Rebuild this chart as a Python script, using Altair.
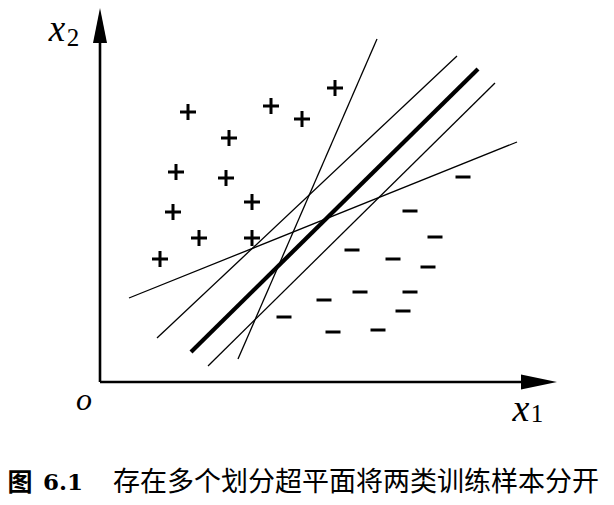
import altair as alt
import pandas as pd

# ---- data (figure units: origin at the axes' crossing) ----
plus_x = [88, 171, 202, 235, 129, 76, 126, 152, 73, 99, 152, 60]
plus_y = [270, 276, 263, 294, 244, 210, 204, 180, 170, 144, 144, 123]

minus_x = [363, 310, 335, 252, 293, 328, 260, 310, 224, 184, 303, 233, 278]
minus_y = [205, 171, 145, 132, 123, 115, 90, 90, 82, 65, 71, 50, 52]

# separating hyperplanes: start / end points, and whether bold (optimal)
line_x0 = [138, 57, 91, 108, 29]
line_y0 = [23, 44, 30, 16, 84]
line_x1 = [277, 357, 378, 395, 417]
line_y1 = [343, 326, 313, 299, 240]
line_bold = [False, False, True, False, False]

caption_fig = "图"
caption_num = "6.1"
caption_text = "存在多个划分超平面将两类训练样本分开"

X_DOM = [-92, 506]
Y_DOM = [-115, 374]

xs = alt.Scale(domain=X_DOM, nice=False, zero=False)
ys = alt.Scale(domain=Y_DOM, nice=False, zero=False)

def X(field, **kw):
    return alt.X(field, type="quantitative", scale=xs, axis=None, **kw)

def Y(field, **kw):
    return alt.Y(field, type="quantitative", scale=ys, axis=None, **kw)

plus_df = pd.DataFrame({"x": plus_x, "y": plus_y})
minus_df = pd.DataFrame({"x": minus_x, "y": minus_y})
lines_df = pd.DataFrame({"x": line_x0, "y": line_y0, "x2": line_x1, "y2": line_y1,
                         "w": [4.2 if b else 1.3 for b in line_bold]})

axes_df = pd.DataFrame({"x": [0, 0], "y": [0, 0], "x2": [428, 0], "y2": [0, 345]})
xarrow_df = pd.DataFrame({"x": [439], "y": [0]})
yarrow_df = pd.DataFrame({"x": [0], "y": [356.5]})

plus = alt.Chart(plus_df).mark_point(
    shape="M-1,0H1M0,-1V1", size=256, filled=False, stroke="black",
    strokeWidth=3, opacity=1, strokeCap="butt"
).encode(x=X("x"), y=Y("y"))

minus = alt.Chart(minus_df).mark_point(
    shape="M-1,0H1", size=225, filled=False, stroke="black",
    strokeWidth=3, opacity=1, strokeCap="butt"
).encode(x=X("x"), y=Y("y"))

lines = alt.Chart(lines_df).mark_rule(color="black").encode(
    x=X("x"), y=Y("y"), x2="x2", y2="y2",
    strokeWidth=alt.StrokeWidth("w:Q", scale=None, legend=None)
)

axes = alt.Chart(axes_df).mark_rule(color="black", strokeWidth=2.6).encode(
    x=X("x"), y=Y("y"), x2="x2", y2="y2"
)

xarrow = alt.Chart(xarrow_df).mark_point(
    shape="M1,0L-1,-0.42L-1,0.42Z", size=1296, filled=True, fill="black",
    strokeWidth=0, opacity=1
).encode(x=X("x"), y=Y("y"))

yarrow = alt.Chart(yarrow_df).mark_point(
    shape="M0,-1L-0.4,1L0.4,1Z", size=1225, filled=True, fill="black",
    strokeWidth=0, opacity=1
).encode(x=X("x"), y=Y("y"))

math_font = "Liberation Serif"

def label(txt, x, y, size, style="italic", align="center", font=math_font, weight="normal"):
    df = pd.DataFrame({"x": [x], "y": [y], "t": [txt]})
    return alt.Chart(df).mark_text(
        font=font, fontSize=size, fontStyle=style, fontWeight=weight,
        align=align, baseline="middle", color="black"
    ).encode(x=X("x"), y=Y("y"), text="t:N")

labels = [
    label("x", -43, 352, 37),
    label("2", -27, 344, 25, style="normal"),
    label("o", -16, -18, 32),
    label("x", 421, -28, 38),
    label("1", 437, -32, 25, style="normal"),
    label(caption_fig, -80, -101, 25, style="normal", font="Noto Sans CJK SC", weight="bold"),
    label(caption_num, -37, -101, 23, style="normal", font="DejaVu Serif", weight="bold"),
    label(caption_text, 13, -101, 27, style="normal", align="left", font="Noto Sans CJK SC"),
]

chart = alt.layer(lines, axes, xarrow, yarrow, plus, minus, *labels).properties(
    width=598, height=489,
    autosize=alt.AutoSizeParams(type="none"),
    padding={"top": 0, "left": 0, "right": 0, "bottom": 8},
).configure_view(stroke=None)

chart.save("out.html", embed_options={"renderer": "svg", "actions": False})
